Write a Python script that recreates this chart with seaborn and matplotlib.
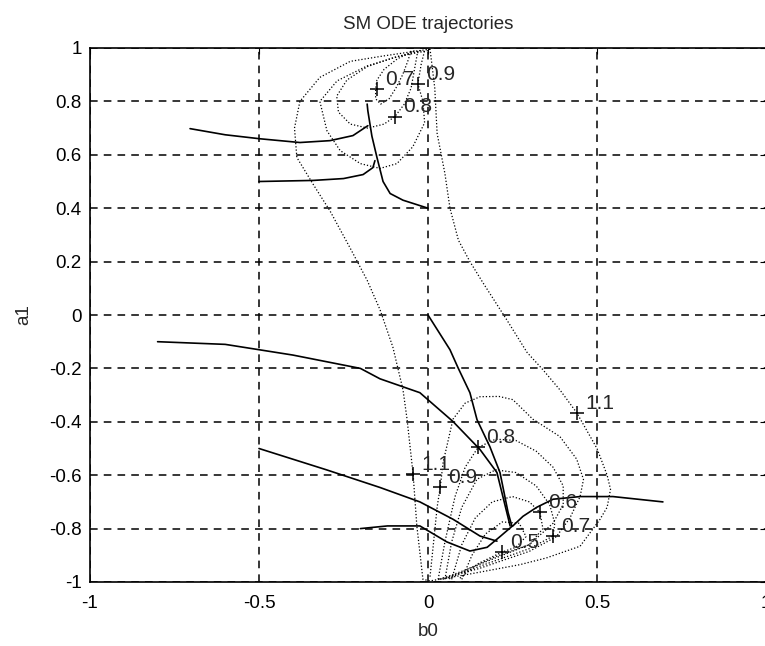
import matplotlib
matplotlib.use("Agg")
import matplotlib.pyplot as plt
import seaborn as sns

# ---- trajectories (b0, a1) ----
traj_b0 = [
    [-0.704, -0.6, -0.497, -0.379, -0.29, -0.222, -0.178],
    [-0.5, -0.34, -0.25, -0.192, -0.163, -0.157],
    [0.0, -0.074, -0.112, -0.133, -0.151, -0.166, -0.178, -0.18],
    [-0.8, -0.6, -0.4, -0.2, -0.142, -0.024, 0.074, 0.154, 0.204, 0.243],
    [0.0, 0.065, 0.089, 0.124, 0.145, 0.183, 0.213, 0.237, 0.248],
    [-0.5, -0.3, -0.142, -0.024, 0.074, 0.154, 0.204],
    [-0.2, -0.12, -0.024, 0.056, 0.124, 0.175, 0.213, 0.25],
    [0.695, 0.547, 0.45, 0.37, 0.322, 0.281, 0.251],
]
traj_a1 = [
    [0.698, 0.675, 0.66, 0.646, 0.653, 0.672, 0.709],
    [0.5, 0.504, 0.511, 0.526, 0.552, 0.578],
    [0.40, 0.43, 0.455, 0.50, 0.59, 0.67, 0.765, 0.79],
    [-0.1, -0.11, -0.15, -0.2, -0.239, -0.291, -0.399, -0.504, -0.59, -0.79],
    [0.0, -0.13, -0.198, -0.291, -0.392, -0.493, -0.59, -0.74, -0.79],
    [-0.5, -0.58, -0.646, -0.70, -0.765, -0.828, -0.847],
    [-0.8, -0.79, -0.79, -0.85, -0.884, -0.87, -0.83, -0.79],
    [-0.70, -0.68, -0.68, -0.69, -0.72, -0.754, -0.79],
]

# ---- contour lines (dotted) ----
cont_b0 = [
    # 1.1 (large loop)
    [0.006, -0.053, -0.133, -0.23, -0.32, -0.379, -0.395, -0.388, -0.34, -0.29, -0.23, -0.18,
     -0.142, -0.104, -0.074, -0.062, -0.044, -0.033, -0.015, 0.006, 0.124, 0.272, 0.35, 0.45,
     0.509, 0.53, 0.54, 0.53, 0.5, 0.44, 0.39, 0.34, 0.293, 0.234, 0.163, 0.124, 0.09, 0.065,
     0.05, 0.027, 0.02, 0.006],
    # upper 0.9
    [0.0, -0.083, -0.18, -0.269, -0.32, -0.299, -0.26, -0.2, -0.142, -0.092, -0.045, -0.01,
     -0.015, -0.03, -0.02, -0.01],
    # upper 0.8
    [-0.02, -0.1, -0.18, -0.24, -0.27, -0.265, -0.23, -0.178, -0.13, -0.098, -0.07, -0.05,
     -0.04, -0.03],
    # upper 0.7
    [-0.04, -0.09, -0.13, -0.151, -0.155, -0.155, -0.14, -0.115, -0.095, -0.075, -0.06, -0.05],
    # lower 0.9
    [0.006, 0.015, 0.027, 0.036, 0.045, 0.056, 0.074, 0.11, 0.154, 0.21, 0.251, 0.31, 0.39,
     0.44, 0.46, 0.45, 0.42, 0.38, 0.3, 0.15, 0.03],
    # lower 0.8
    [0.03, 0.05, 0.08, 0.11, 0.148, 0.2, 0.26, 0.32, 0.37, 0.4, 0.4, 0.37, 0.3, 0.2, 0.1, 0.035],
    # lower 0.7
    [0.05, 0.07, 0.1, 0.145, 0.2, 0.26, 0.32, 0.36, 0.375, 0.37, 0.3, 0.2, 0.1, 0.045],
    # lower 0.6
    [0.07, 0.1, 0.14, 0.19, 0.25, 0.3, 0.331, 0.34, 0.3, 0.2, 0.12, 0.06],
    # lower 0.5
    [0.1, 0.13, 0.17, 0.22, 0.27, 0.29, 0.26, 0.219, 0.15, 0.09],
]
cont_a1 = [
    [0.996, 0.985, 0.97, 0.95, 0.89, 0.80, 0.70, 0.59, 0.49, 0.39, 0.25, 0.13,
     0.02, -0.12, -0.28, -0.39, -0.597, -0.79, -0.99, -0.996, -0.97, -0.935, -0.91, -0.866,
     -0.765, -0.72, -0.653, -0.6, -0.5, -0.366, -0.28, -0.205, -0.14, -0.02, 0.12, 0.2, 0.28, 0.4,
     0.53, 0.68, 0.85, 0.996],
    [0.99, 0.97, 0.933, 0.877, 0.80, 0.69, 0.616, 0.567, 0.549, 0.567, 0.63, 0.72,
     0.8, 0.866, 0.94, 0.99],
    [0.99, 0.965, 0.93, 0.88, 0.82, 0.76, 0.715, 0.70, 0.715, 0.743, 0.79, 0.85,
     0.92, 0.99],
    [0.99, 0.96, 0.92, 0.88, 0.847, 0.81, 0.79, 0.81, 0.85, 0.9, 0.95, 0.99],
    [-0.98, -0.87, -0.72, -0.646, -0.55, -0.49, -0.39, -0.33, -0.306, -0.305, -0.317, -0.39, -0.455,
     -0.54, -0.616, -0.68, -0.76, -0.83, -0.885, -0.95, -0.99],
    [-0.99, -0.85, -0.68, -0.57, -0.496, -0.465, -0.47, -0.51, -0.57, -0.64, -0.71, -0.78, -0.86,
     -0.91, -0.96, -0.99],
    [-0.99, -0.85, -0.72, -0.615, -0.58, -0.59, -0.64, -0.71, -0.78, -0.828, -0.875, -0.92, -0.965,
     -0.99],
    [-0.99, -0.86, -0.76, -0.70, -0.68, -0.70, -0.739, -0.8, -0.86, -0.905, -0.95, -0.99],
    [-0.99, -0.9, -0.82, -0.775, -0.78, -0.83, -0.87, -0.888, -0.93, -0.99],
]

# ---- contour labels (clabel "+" positions and text) ----
lab_b0 = [-0.151, -0.03, -0.098, 0.44, 0.148, -0.044, 0.036, 0.331, 0.37, 0.219]
lab_a1 = [0.847, 0.866, 0.743, -0.366, -0.496, -0.597, -0.646, -0.739, -0.828, -0.888]
lab_txt = ["0.7", "0.9", "0.8", "1.1", "0.8", "1.1", "0.9", "0.6", "0.7", "0.5"]

sns.set_style("white")
plt.rcParams['font.family'] = ['Liberation Sans', 'DejaVu Sans']
plt.rcParams['font.size'] = 13.5

fig = plt.figure(figsize=(7.65, 6.46), dpi=100)
ax = fig.add_axes([90 / 765, 64 / 646, 676 / 765, 534 / 646])

for xs, ys in zip(cont_b0, cont_a1):
    sns.lineplot(x=xs, y=ys, sort=False, estimator=None, ax=ax, color='k',
                 lw=0.9, linestyle=(0, (1, 1.6)))

for xs, ys in zip(traj_b0, traj_a1):
    sns.lineplot(x=xs, y=ys, sort=False, estimator=None, ax=ax, color='k', lw=1.2)

sns.scatterplot(x=lab_b0, y=lab_a1, marker='+', s=110, color='k', linewidth=1.1, ax=ax, zorder=5)
for x, y, t in zip(lab_b0, lab_a1, lab_txt):
    ax.annotate(t, (x, y), xytext=(6, 3), textcoords='offset points',
                ha='left', va='baseline', fontsize=15)

ax.set_xlim(-1, 1)
ax.set_ylim(-1, 1)
ax.set_xticks([-1, -0.5, 0, 0.5, 1])
ax.set_xticklabels(['-1', '-0.5', '0', '0.5', '1'])
ax.set_yticks([-1, -0.8, -0.6, -0.4, -0.2, 0, 0.2, 0.4, 0.6, 0.8, 1])
ax.set_yticklabels(['-1', '-0.8', '-0.6', '-0.4', '-0.2', '0', '0.2', '0.4', '0.6', '0.8', '1'])
ax.grid(True, color='k', lw=1.1, linestyle=(0, (5, 4)))
ax.tick_params(axis='x', direction='in', length=4, top=True, pad=9, labelsize=13.5, colors='k')
ax.tick_params(axis='y', direction='in', length=4, right=True, pad=6, labelsize=13.5, colors='k')
for s in ax.spines.values():
    s.set_color('k')
    s.set_linewidth(1.2)

ax.set_title('SM ODE trajectories', fontsize=13.5, pad=14)
ax.set_xlabel('b0', fontsize=13.5, labelpad=8)
ax.set_ylabel('a1', fontsize=13.5, labelpad=12)

plt.savefig('out.png', dpi=100)
